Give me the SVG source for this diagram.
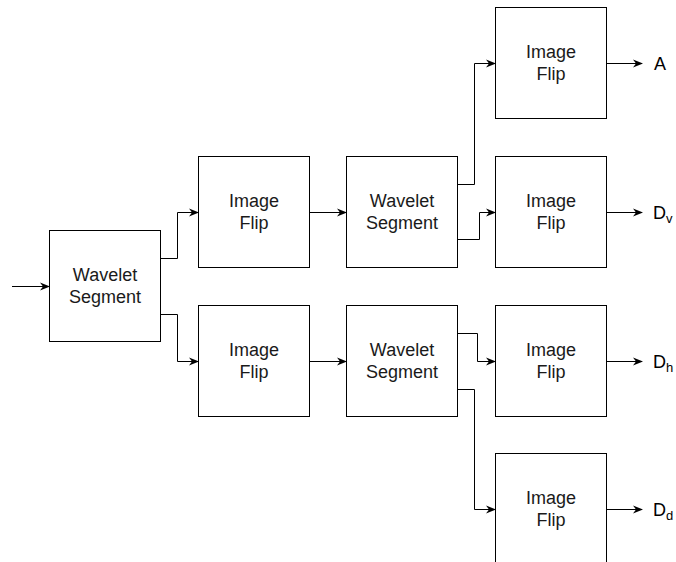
<svg xmlns="http://www.w3.org/2000/svg" width="676" height="562" viewBox="0 0 676 562">
<style>
.box{fill:#fff;stroke:#000;stroke-width:1}
.t{font-family:"Liberation Sans",Arial,sans-serif;font-size:18px;fill:#1a1a1a;text-anchor:middle}
.lbl{font-family:"Liberation Sans",Arial,sans-serif;font-size:18px;fill:#000}
.c{fill:none;stroke:#000;stroke-width:1;marker-end:url(#ah)}
</style>
<defs>
<marker id="ah" viewBox="0 0 10 10" refX="9" refY="5" markerWidth="10" markerHeight="10" markerUnits="userSpaceOnUse" orient="auto">
<path d="M0,1 L10,5 L0,9 L3,5 z" fill="#000"/>
</marker>
</defs>
<rect width="676" height="562" fill="#fff"/>
<g id="connectors">
<path class="c" d="M12,286.5 H49"/>
<path class="c" d="M160.5,258.5 H177.5 V212.5 H198"/>
<path class="c" d="M160.5,314.5 H177.5 V361.5 H198"/>
<path class="c" d="M309.5,212.5 H346"/>
<path class="c" d="M309.5,361.5 H346"/>
<path class="c" d="M457.5,184.5 H474.5 V63.5 H495"/>
<path class="c" d="M457.5,239.5 H479.5 V212.5 H495"/>
<path class="c" d="M457.5,333.5 H477.5 V361.5 H495"/>
<path class="c" d="M457.5,389.5 H474.5 V509.5 H495"/>
<path class="c" d="M606.5,63.5 H642"/>
<path class="c" d="M606.5,212.5 H642"/>
<path class="c" d="M606.5,361.5 H642"/>
<path class="c" d="M606.5,509.5 H642"/>
</g>
<g id="ws1"><rect class="box" x="49.5" y="230.5" width="111" height="111"/><text class="t" x="105" y="281">Wavelet</text><text class="t" x="105" y="302.5">Segment</text></g>
<g id="if1"><rect class="box" x="198.5" y="156.5" width="111" height="111"/><text class="t" x="254" y="207">Image</text><text class="t" x="254" y="228.5">Flip</text></g>
<g id="if2"><rect class="box" x="198.5" y="305.5" width="111" height="111"/><text class="t" x="254" y="356">Image</text><text class="t" x="254" y="377.5">Flip</text></g>
<g id="ws2"><rect class="box" x="346.5" y="156.5" width="111" height="111"/><text class="t" x="402" y="207">Wavelet</text><text class="t" x="402" y="228.5">Segment</text></g>
<g id="ws3"><rect class="box" x="346.5" y="305.5" width="111" height="111"/><text class="t" x="402" y="356">Wavelet</text><text class="t" x="402" y="377.5">Segment</text></g>
<g id="ifA"><rect class="box" x="495.5" y="7.5" width="111" height="111"/><text class="t" x="551" y="58">Image</text><text class="t" x="551" y="79.5">Flip</text></g>
<g id="ifV"><rect class="box" x="495.5" y="156.5" width="111" height="111"/><text class="t" x="551" y="207">Image</text><text class="t" x="551" y="228.5">Flip</text></g>
<g id="ifH"><rect class="box" x="495.5" y="305.5" width="111" height="111"/><text class="t" x="551" y="356">Image</text><text class="t" x="551" y="377.5">Flip</text></g>
<g id="ifD"><rect class="box" x="495.5" y="453.5" width="111" height="111"/><text class="t" x="551" y="504">Image</text><text class="t" x="551" y="525.5">Flip</text></g>
<g id="labels">
<text class="lbl" x="654" y="69.5">A</text>
<text class="lbl" x="653" y="218.5">D<tspan font-size="13" dy="4">v</tspan></text>
<text class="lbl" x="653" y="367.5">D<tspan font-size="13" dy="4">h</tspan></text>
<text class="lbl" x="653" y="515.5">D<tspan font-size="13" dy="4">d</tspan></text>
</g>
</svg>
